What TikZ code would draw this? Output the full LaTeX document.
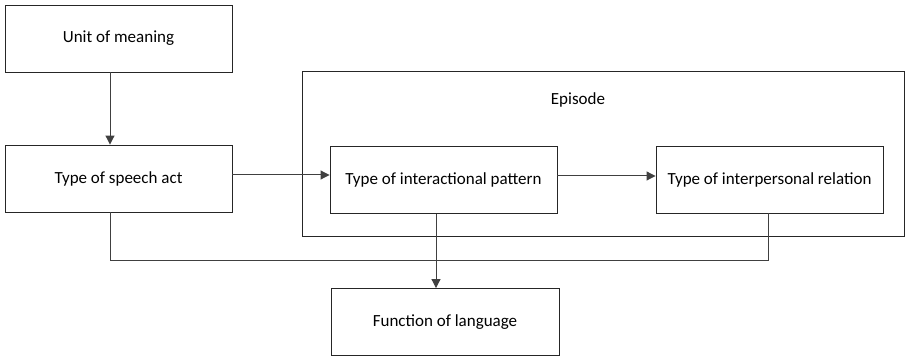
\documentclass[tikz,border=0pt]{standalone}
\usepackage{fontspec}
\setmainfont{Carlito}
\usetikzlibrary{arrows.meta}
\definecolor{ln}{HTML}{404040}
\tikzset{
  box/.style={draw=black!85, line width=0.9pt, minimum width=227pt, minimum height=67pt, inner sep=0pt, font=\fontsize{17}{20}\selectfont},
  conn/.style={draw=ln, line width=1pt},
  arr/.style={conn, -{Triangle[length=9pt,width=9pt]}}
}
\begin{document}
\begin{tikzpicture}[x=1pt,y=-1pt]
\useasboundingbox (0,0) rectangle (911,358);
\node[box] (unit) at (118.5,38.5) {Unit of meaning};
\node[box] (speech) at (118.5,178.5) {Type of speech act};
\draw[draw=black!85, line width=0.9pt] (302,71) rectangle (904,236);
\node[font=\fontsize{17}{20}\selectfont] (episode) at (578,100) {Episode};
\node[box] (inter) at (443.5,180) {Type of interactional pattern};
\node[box] (rel) at (769.5,179.5) {Type of interpersonal relation};
\node[box, minimum width=228pt] (func) at (445,322) {Function of language};
\coordinate (j) at (436,261);
\draw[arr] (unit.south -| 110,0) -- (speech.north -| 110,0);
\draw[arr] (speech.east |- 0,175) -- (inter.west |- 0,175);
\draw[arr] (inter.east |- 0,176) -- (rel.west |- 0,176);
\draw[conn] (speech.south -| 110,0) |- (j);
\draw[conn] (rel.south -| 768,0) |- (j);
\draw[arr] (inter.south -| 436,0) -- (func.north -| 436,0);
\end{tikzpicture}
\end{document}
